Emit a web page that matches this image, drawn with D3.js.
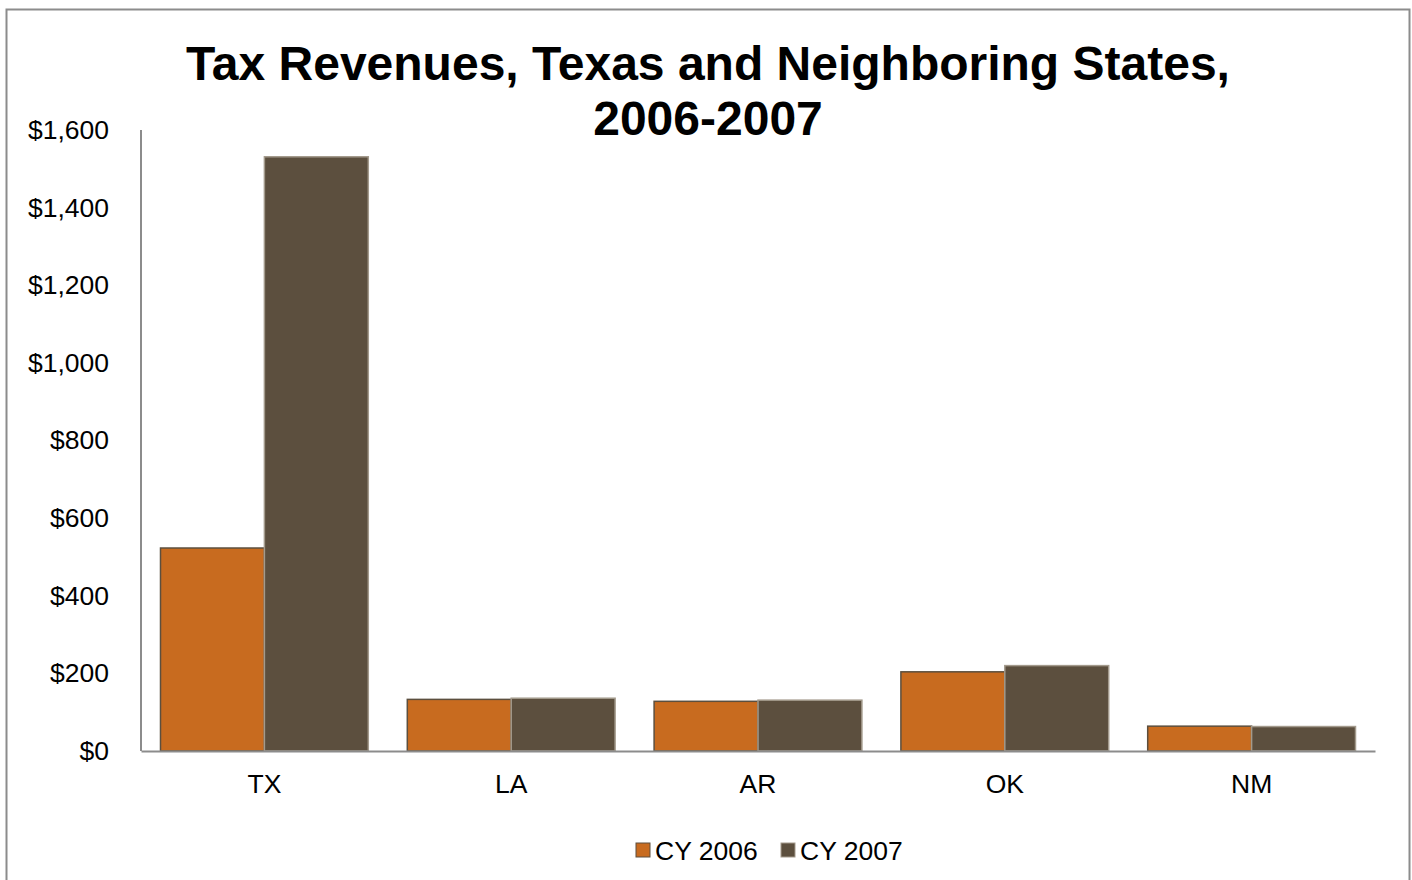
<!DOCTYPE html>
<html>
<head>
<meta charset="utf-8">
<script src="https://cdn.jsdelivr.net/npm/d3@7"></script>
<style>
body { margin: 0; background: #fff; }
svg { display: block; font-family: "Liberation Sans", Arial, sans-serif; }
</style>
</head>
<body>
<script>
// data (millions of dollars)
var states = ["TX", "LA", "AR", "OK", "NM"];
var seriesNames = ["CY 2006", "CY 2007"];
var cy2006 = [523, 133, 128, 204, 64];
var cy2007 = [1531, 136, 131, 220, 63];
var yTicks = [0, 200, 400, 600, 800, 1000, 1200, 1400, 1600];

var colors = ["#C86B1F", "#5C4F3E"];
var strokes = ["#5C4F3E", "#A39A8C"];

var W = 1412, H = 880;
var margin = {left: 141, right: 37, top: 130, bottom: 129};
var width = W - margin.left - margin.right;
var height = H - margin.top - margin.bottom;

var svg = d3.select("body").append("svg")
    .attr("width", W)
    .attr("height", H);

// outer frame
svg.append("rect")
    .attr("x", 6.5).attr("y", 9.5)
    .attr("width", 1403).attr("height", 880)
    .attr("fill", "none")
    .attr("stroke", "#8c8c8c")
    .attr("stroke-width", 2);

// title
var title = svg.append("text")
    .attr("text-anchor", "middle")
    .attr("font-size", 48)
    .attr("font-weight", "bold")
    .attr("fill", "#000");
title.append("tspan").attr("x", 708).attr("y", 80).text("Tax Revenues, Texas and Neighboring States,");
title.append("tspan").attr("x", 708).attr("y", 135).text("2006-2007");

var g = svg.append("g")
    .attr("transform", "translate(" + margin.left + "," + margin.top + ")");

var x0 = d3.scaleBand().domain(states).range([0, width]).paddingInner(0.158).paddingOuter(0.079);
var x1 = d3.scaleBand().domain([0, 1]).range([0, x0.bandwidth()]);
var y = d3.scaleLinear().domain([0, 1600]).range([height, 0]);

// y axis labels
var yAxis = d3.axisLeft(y).tickValues(yTicks).tickSize(0).tickPadding(32)
    .tickFormat(function (d) { return "$" + d3.format(",")(d); });
var ya = g.append("g").call(yAxis);
ya.select(".domain").remove();
ya.selectAll("text").attr("font-size", 26.5).attr("fill", "#000")
    .attr("font-family", "Liberation Sans, Arial, sans-serif");

// bars
var values = [cy2006, cy2007];
states.forEach(function (s, i) {
    [0, 1].forEach(function (k) {
        g.append("rect")
            .attr("x", x0(s) + x1(k))
            .attr("y", y(values[k][i]))
            .attr("width", x1.bandwidth())
            .attr("height", height - y(values[k][i]))
            .attr("fill", colors[k])
            .attr("stroke", strokes[k])
            .attr("stroke-width", 1.5);
    });
});

// axis lines
g.append("line").attr("x1", 0).attr("x2", 0).attr("y1", 0).attr("y2", height)
    .attr("stroke", "#8c8c8c").attr("stroke-width", 2);
var xa = g.append("g").attr("transform", "translate(0," + height + ")")
    .call(d3.axisBottom(x0).tickSize(0).tickPadding(23));
xa.select(".domain").attr("stroke", "#8c8c8c").attr("stroke-width", 2);
xa.selectAll("text").attr("font-size", 26.5).attr("fill", "#000")
    .attr("font-family", "Liberation Sans, Arial, sans-serif");

// legend
var legendX = [636, 781];
seriesNames.forEach(function (n, k) {
    svg.append("rect")
        .attr("x", legendX[k]).attr("y", 843)
        .attr("width", 14).attr("height", 14)
        .attr("fill", colors[k])
        .attr("stroke", k == 0 ? "#5C4F3E" : "#A39A8C")
        .attr("stroke-width", 1);
    svg.append("text")
        .attr("x", legendX[k] + 19).attr("y", 860)
        .attr("font-size", 26.5).attr("fill", "#000")
        .text(n);
});
</script>
</body>
</html>
